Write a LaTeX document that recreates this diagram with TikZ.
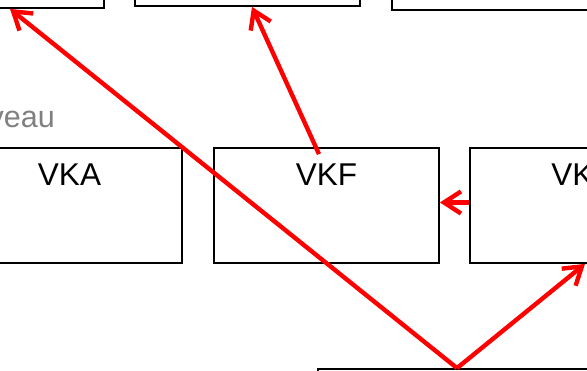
\documentclass[tikz,border=0pt]{standalone}
\usepackage{fontspec}
\setmainfont{Liberation Sans}
\usetikzlibrary{positioning,arrows.meta}
\tikzset{
  box/.style={draw, line width=1.8pt, minimum width=225pt, minimum height=115pt, inner sep=0pt},
  lbl/.style={inner sep=0pt, font=\fontsize{31.5pt}{36pt}\selectfont},
  lvl/.style={inner sep=0pt, text=gray, font=\fontsize{30.5pt}{36pt}\selectfont},
  arr/.style={draw=red, line width=4.4pt, -{Straight Barb[length=17pt,width=22pt]}}
}
\begin{document}
\begin{tikzpicture}[x=1pt,y=1pt]
      \useasboundingbox (0,0) rectangle (587,371);
      \clip (0,0) rectangle (587,371);
      %%%%%%%%%%%%%%%%%%%%%%%%%%%%%%%%%%%%%%%%%%%%%%%
      \node[box] at (-8.5,420.5)  (top1) {};
      \node[box] at (247.5,422.5) (top2) {};
      \node[box] at (504.5,418.5) (top3) {};
      %%%%%%%%%%%%%%%%%%%%%%%%%%%%%%%%%%%%%%%%%%%%%%%
      \node[lvl, anchor=base east] at (55,243.5) (niv) {veau};
      %%%%%%%%%%%%%%%%%%%%%%%%%%%%%%%%%%%%%%%%%%%%%%%
      \node[box] at (69.5,165.5)  (vka) {};
      \node[box] at (326.5,165.5) (vkf) {};
      \node[box] at (582.5,165.5) (vkx) {};
      \node[lbl, below=17pt of vka.north] (tvka) {VKA};
      \node[lbl, below=17pt of vkf.north] (tvkf) {VKF};
      \node[lbl, anchor=north west] at ([xshift=82pt,yshift=-17pt]vkx.north west) (tvkx) {VK};
      %%%%%%%%%%%%%%%%%%%%%%%%%%%%%%%%%%%%%%%%%%%%%%%
      \node[box, minimum width=320pt] at (478,-55.5) (bot) {};
      %%%%%%%%%%%%%%%%%%%%%%%%%%%%%%%%%%%%%%%%%%%%%%%
      \draw[arr] ([xshift=-21pt]bot.north) -- ([xshift=18.5pt]top1.south);
      \draw[arr] ([xshift=-7.5pt,yshift=-7pt]vkf.north) -- ([xshift=4.5pt]top2.south);
      \draw[arr] ([yshift=3pt]vkx.west) -- ([yshift=3pt]vkf.east);
      \draw[arr] ([xshift=-21pt]bot.north) -- ([xshift=2.5pt]vkx.south);
      %%%%%%%%%%%%%%%%%%%%%%%%%%%%%%%%%%%%%%%%%%%%%%%
\end{tikzpicture}
\end{document}
